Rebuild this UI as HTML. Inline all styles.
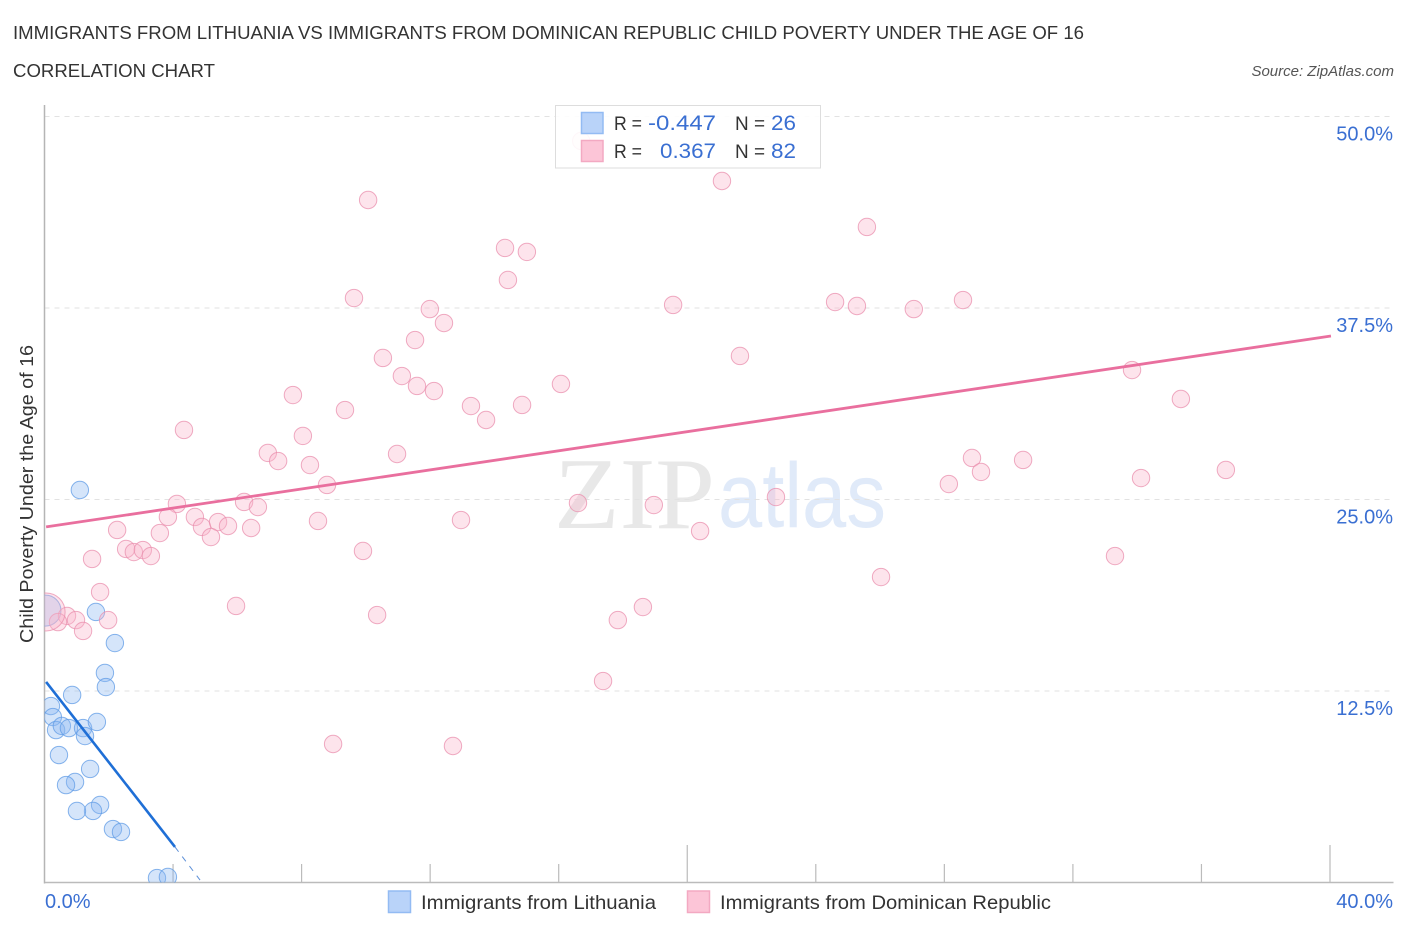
<!DOCTYPE html>
<html lang="en">
<head>
<meta charset="utf-8">
<title>Immigrants from Lithuania vs Immigrants from Dominican Republic Child Poverty Correlation Chart</title>
<style>
html,body{margin:0;padding:0;background:#fff;width:1406px;height:930px;overflow:hidden}
svg{display:block;font-family:"Liberation Sans",sans-serif}
</style>
</head>
<body>
<svg id="chart" xmlns="http://www.w3.org/2000/svg" width="1406" height="930" viewBox="0 0 1406 930">
  <defs>
    <clipPath id="plot-clip"><rect x="44.5" y="100" width="1350" height="782.5"></rect></clipPath>
  </defs>
  <rect width="1406" height="930" fill="#fff"></rect>
  <text x="13" y="39" font-size="18.5" fill="#333" textLength="1071" lengthAdjust="spacingAndGlyphs">IMMIGRANTS FROM LITHUANIA VS IMMIGRANTS FROM DOMINICAN REPUBLIC CHILD POVERTY UNDER THE AGE OF 16</text>
  <text x="13" y="77" font-size="18.5" fill="#333" textLength="202" lengthAdjust="spacingAndGlyphs">CORRELATION CHART</text>
  <text x="1394" y="76" font-size="15" font-style="italic" fill="#555" text-anchor="end">Source: ZipAtlas.com</text>

  <g>
    <text x="554" y="528" font-family="'Liberation Serif',serif" font-size="102" fill="#e8e8e8" textLength="161" lengthAdjust="spacingAndGlyphs">ZIP</text>
    <text x="718" y="527" font-size="92" fill="#e0eaf9" textLength="168" lengthAdjust="spacingAndGlyphs">atlas</text>
  </g>

  <g id="grid"></g>
  <g id="x-axis"></g>
  <g id="y-axis"></g>
  <g id="marks" clip-path="url(#plot-clip)"></g>

  <text transform="translate(33,494) rotate(-90)" font-size="18.5" fill="#333" text-anchor="middle" textLength="298" lengthAdjust="spacingAndGlyphs">Child Poverty Under the Age of 16</text>

  <g>
    <rect x="555.5" y="105.5" width="265" height="62.5" fill="#fff" fill-opacity="0.9" stroke="#ddd"></rect>
    <rect x="581.5" y="112.5" width="21.5" height="21" fill="#b9d3f9" stroke="#93bbf3" stroke-width="1.5"></rect>
    <rect x="581.5" y="140.5" width="21.5" height="21" fill="#fcc5d7" stroke="#f3a9c2" stroke-width="1.5"></rect>
    <g font-size="19.5" fill="#333">
      <text x="614" y="130" textLength="28" lengthAdjust="spacingAndGlyphs">R =</text>
      <text x="735" y="130" textLength="30" lengthAdjust="spacingAndGlyphs">N =</text>
      <text x="614" y="158" textLength="28" lengthAdjust="spacingAndGlyphs">R =</text>
      <text x="735" y="158" textLength="30" lengthAdjust="spacingAndGlyphs">N =</text>
    </g>
    <g font-size="21" fill="#3a6fd2">
      <text x="648" y="130" textLength="68" lengthAdjust="spacingAndGlyphs">-0.447</text>
      <text x="771" y="130" textLength="25" lengthAdjust="spacingAndGlyphs">26</text>
      <text x="660" y="158" textLength="56" lengthAdjust="spacingAndGlyphs">0.367</text>
      <text x="771" y="158" textLength="25" lengthAdjust="spacingAndGlyphs">82</text>
    </g>
  </g>

  <g>
    <rect x="388.5" y="891" width="22" height="21.5" fill="#b9d3f9" stroke="#93bbf3" stroke-width="1.5"></rect>
    <text x="421" y="909" font-size="19.5" fill="#333" textLength="235" lengthAdjust="spacingAndGlyphs">Immigrants from Lithuania</text>
    <rect x="687.5" y="891" width="22" height="21.5" fill="#fcc5d7" stroke="#f3a9c2" stroke-width="1.5"></rect>
    <text x="720" y="909" font-size="19.5" fill="#333" textLength="331" lengthAdjust="spacingAndGlyphs">Immigrants from Dominican Republic</text>
  </g>
</svg>
<script>
const xAxisTicks = [4, 8, 12, 16, 20, 24, 28, 32, 36, 40];
const xMajorTicks = [20, 40];
const xTickLabels = ["0.0%", "40.0%"];
const yAxisTicks = [12.5, 25, 37.5, 50];
const yTickLabels = ["12.5%", "25.0%", "37.5%", "50.0%"];

const lithuaniaX = [1.10,1.60,2.19,1.88,1.91,0.86,0.20,0.26,0.36,0.54,0.76,1.20,1.26,1.63,0.45,1.42,0.95,0.67,1.73,1.51,1.01,2.13,2.38,3.50,3.84];
const lithuaniaY = [25.62,17.66,15.63,13.68,12.76,12.24,11.52,10.80,9.95,10.22,10.08,10.08,9.56,10.48,8.32,7.41,6.56,6.36,5.06,4.67,4.67,3.49,3.30,0.29,0.36];
const lithuaniaClusterX = [0.03];
const lithuaniaClusterY = [17.75];

const dominicanX = [16.70,10.07,21.08,25.59,14.33,15.01,14.42,9.63,11.99,12.43,11.53,10.53,11.12,11.59,12.12,7.73,9.35,13.27,13.74,14.86,16.07,19.56,24.60,25.28,27.05,28.58,21.64,33.84,35.36,4.34,8.04,6.95,7.27,8.26,10.97,8.79,4.12,6.21,6.64,3.84,4.68,8.51,12.96,4.90,5.40,5.71,2.26,3.59,6.43,5.18,2.54,2.78,3.06,3.31,1.48,9.91,1.73,5.96,10.35,0.70,0.42,0.98,1.98,1.20,17.84,18.62,17.38,8.98,12.71,16.60,18.96,20.40,22.76,26.03,28.86,28.14,29.14,30.45,34.12,36.76,33.31];
const dominicanY = [48.40,44.55,45.79,42.79,41.42,41.16,39.33,38.15,37.43,36.52,35.41,34.24,33.06,32.41,32.08,31.82,30.84,31.10,30.19,31.17,32.54,37.70,37.89,37.63,37.43,38.02,34.37,33.45,31.56,29.54,29.15,28.04,27.51,27.25,27.97,25.95,24.71,24.84,24.51,23.86,23.86,23.60,23.66,23.21,23.53,23.27,23.01,22.81,23.14,22.55,21.77,21.57,21.70,21.31,21.12,21.64,18.96,18.05,17.46,17.40,17.00,17.13,17.13,16.42,17.13,17.98,13.15,9.04,8.91,24.77,24.64,22.94,25.16,19.94,27.71,26.01,26.80,27.58,26.40,26.93,21.31];
const dominicanClusterX = [0.05];
const dominicanClusterY = [17.66];

const lithuaniaTrendX = [0.05, 4.06];
const lithuaniaTrendY = [13.09, 2.32];
const lithuaniaDashX = [4.06, 4.84];
const lithuaniaDashY = [2.32, 0.16];
const dominicanTrendX = [0.05, 40.03];
const dominicanTrendY = [23.21, 35.67];

const SVG_NS = "http://www.w3.org/2000/svg";
const X0 = 44.5, X40 = 1330, Y0 = 882.5, Y50 = 116.5;
function xScale(v) { return X0 + (X40 - X0) * v / 40; }
function yScale(v) { return Y0 - (Y0 - Y50) * v / 50; }
function make(parent, tag, attrs) {
  const el = document.createElementNS(SVG_NS, tag);
  for (const k in attrs) el.setAttribute(k, attrs[k]);
  parent.appendChild(el);
  return el;
}

const gridG = document.getElementById("grid");
const xAxisG = document.getElementById("x-axis");
const yAxisG = document.getElementById("y-axis");
const marksG = document.getElementById("marks");

yAxisTicks.forEach(function (t, i) {
  const line = make(gridG, "line", {x1: X0, x2: 1393, y1: yScale(t), y2: yScale(t), stroke: "#e2e2e2", "stroke-width": 1, "stroke-dasharray": "5 5"});
  
  
  const label = make(yAxisG, "text", {x: 1393, y: yScale(t) + 24, "text-anchor": "end", "font-size": 20, fill: "#3a6fd2"});
  label.textContent = yTickLabels[i];
  
  
});

const yLine = make(yAxisG, "line", {x1: X0, x2: X0, y1: 105, y2: Y0 + 1, stroke: "#b5b5b5", "stroke-width": 1.5});


const xLine = make(xAxisG, "line", {x1: X0, x2: 1393.5, y1: Y0, y2: Y0, stroke: "#bbb", "stroke-width": 1.5});



xAxisTicks.forEach(function (t) {
  const major = xMajorTicks.indexOf(t) >= 0;
  const tick = make(xAxisG, "line", {x1: xScale(t), x2: xScale(t), y1: major ? 845 : 864, y2: Y0, stroke: "#bbb", "stroke-width": 1.2});
  
  
});

const xLabelLeft = make(xAxisG, "text", {x: 45, y: 908, "font-size": 20, fill: "#3a6fd2"});
xLabelLeft.textContent = xTickLabels[0];


const xLabelRight = make(xAxisG, "text", {x: 1393, y: 908, "font-size": 20, fill: "#3a6fd2", "text-anchor": "end"});
xLabelRight.textContent = xTickLabels[1];



function drawPoints(xs, ys, r, fill, stroke, opacity) {
  xs.forEach(function (v, i) {
    const c = make(marksG, "circle", {cx: xScale(v), cy: yScale(ys[i]), r: r, fill: fill, "fill-opacity": opacity, stroke: stroke, "stroke-width": 1, "stroke-opacity": 0.75});
    
    
  });
}

function drawLine(xs, ys, color, width, dash) {
  const attrs = {x1: xScale(xs[0]), y1: yScale(ys[0]), x2: xScale(xs[1]), y2: yScale(ys[1]), stroke: color, "stroke-width": width};
  if (dash) attrs["stroke-dasharray"] = dash;
  const l = make(marksG, "line", attrs);
  
  
}

drawPoints(lithuaniaX, lithuaniaY, 8.7, "#8ab6f2", "#5f9be6", 0.36);
drawPoints(lithuaniaClusterX, lithuaniaClusterY, 15.5, "#8ab6f2", "#5f9be6", 0.36);
drawPoints(dominicanX, dominicanY, 8.7, "#f9b4ca", "#ea8fae", 0.36);
drawPoints(dominicanClusterX, dominicanClusterY, 19, "#f9b4ca", "#ea8fae", 0.36);
drawLine(dominicanTrendX, dominicanTrendY, "#e96f9e", 2.8);
drawLine(lithuaniaTrendX, lithuaniaTrendY, "#1f6fd6", 2.6);
drawLine(lithuaniaDashX, lithuaniaDashY, "#5c8fd8", 1, "6 6");
</script>
</body>
</html>
